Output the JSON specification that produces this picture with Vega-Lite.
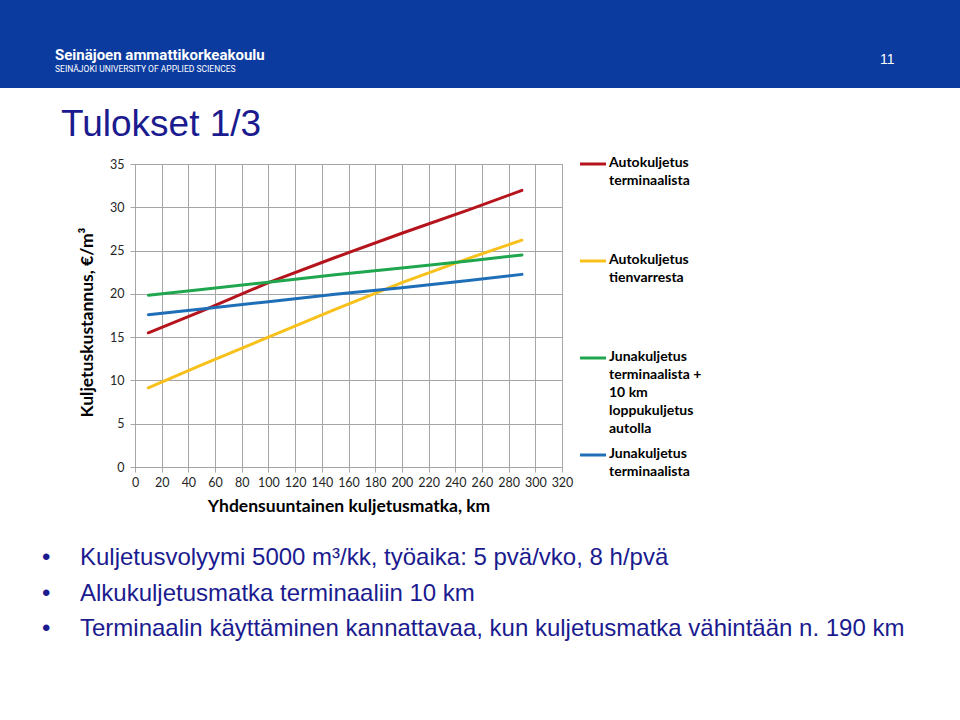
{
  "$schema": "https://vega.github.io/schema/vega-lite/v6.json",
  "padding": 0,
  "background": "#ffffff",
  "spacing": 17,
  "config": {
    "view": {"stroke": "#a6a6a6"},
    "axis": {
      "labelFont": "Lato", "labelFontSize": 12.5, "labelColor": "#262626",
      "titleFont": "Lato", "titleFontSize": 17.5, "titleFontWeight": "bold", "titleColor": "#000000",
      "gridColor": "#a6a6a6", "gridOpacity": 1, "domainColor": "#a6a6a6", "tickColor": "#a6a6a6", "tickSize": 5
    }
  },
  "datasets": {
    "series": [
      {"series": "Autokuljetus terminaalista", "label": "Autokuljetus\nterminaalista"},
      {"series": "Autokuljetus tienvarresta", "label": "Autokuljetus\ntienvarresta"},
      {"series": "Junakuljetus terminaalista + 10 km loppukuljetus autolla", "label": "Junakuljetus\nterminaalista +\n10 km\nloppukuljetus\nautolla"},
      {"series": "Junakuljetus terminaalista", "label": "Junakuljetus\nterminaalista"}
    ]
  },
  "vconcat": [
    {
      "spacing": 0,
      "hconcat": [
        {
          "width": 840, "height": 88,
          "view": {"fill": "#0b3b9f", "stroke": null},
          "title": {
            "text": "Seinäjoen ammattikorkeakoulu",
            "subtitle": "SEINÄJOKI UNIVERSITY OF APPLIED SCIENCES",
            "anchor": "start", "frame": "group", "orient": "top", "offset": -73, "dx": 55,
            "font": "Roboto", "fontSize": 15, "fontWeight": "bold", "color": "#ffffff",
            "subtitleFont": "Roboto", "subtitleFontSize": 8.5, "subtitleColor": "#ffffff", "subtitlePadding": 2
          },
          "data": {"values": []},
          "mark": "point"
        },
        {
          "width": 120, "height": 88,
          "view": {"fill": "#0b3b9f", "stroke": null},
          "title": {
            "text": "11", "anchor": "start", "frame": "group", "orient": "top", "offset": -67, "dx": 40,
            "font": "Liberation Sans", "fontSize": 14, "fontWeight": "normal", "color": "#ffffff"
          },
          "data": {"values": []},
          "mark": "point"
        }
      ]
    },
    {
      "spacing": 0,
      "hconcat": [
        {
          "width": 60, "height": 1,
          "view": {"stroke": null},
          "data": {"values": []},
          "mark": "point"
        },
        {
          "width": 427, "height": 303,
          "title": {
            "text": "Tulokset 1/3", "anchor": "start", "frame": "group", "dx": -74, "offset": 14,
            "font": "Liberation Sans", "fontSize": 37, "fontWeight": "normal", "color": "#1b1b8f"
          },
          "data": {"values": [
            {"series": "Autokuljetus terminaalista", "km": 10, "cost": 15.5},
            {"series": "Autokuljetus terminaalista", "km": 50, "cost": 18.0},
            {"series": "Autokuljetus terminaalista", "km": 100, "cost": 21.3},
            {"series": "Autokuljetus terminaalista", "km": 150, "cost": 24.2},
            {"series": "Autokuljetus terminaalista", "km": 200, "cost": 27.0},
            {"series": "Autokuljetus terminaalista", "km": 250, "cost": 29.7},
            {"series": "Autokuljetus terminaalista", "km": 290, "cost": 31.95},
            {"series": "Autokuljetus tienvarresta", "km": 10, "cost": 9.15},
            {"series": "Autokuljetus tienvarresta", "km": 50, "cost": 11.8},
            {"series": "Autokuljetus tienvarresta", "km": 100, "cost": 15.0},
            {"series": "Autokuljetus tienvarresta", "km": 150, "cost": 18.2},
            {"series": "Autokuljetus tienvarresta", "km": 200, "cost": 21.3},
            {"series": "Autokuljetus tienvarresta", "km": 250, "cost": 24.1},
            {"series": "Autokuljetus tienvarresta", "km": 290, "cost": 26.2},
            {"series": "Junakuljetus terminaalista + 10 km loppukuljetus autolla", "km": 10, "cost": 19.85},
            {"series": "Junakuljetus terminaalista + 10 km loppukuljetus autolla", "km": 50, "cost": 20.5},
            {"series": "Junakuljetus terminaalista + 10 km loppukuljetus autolla", "km": 100, "cost": 21.35},
            {"series": "Junakuljetus terminaalista + 10 km loppukuljetus autolla", "km": 150, "cost": 22.2},
            {"series": "Junakuljetus terminaalista + 10 km loppukuljetus autolla", "km": 200, "cost": 23.0},
            {"series": "Junakuljetus terminaalista + 10 km loppukuljetus autolla", "km": 250, "cost": 23.8},
            {"series": "Junakuljetus terminaalista + 10 km loppukuljetus autolla", "km": 290, "cost": 24.5},
            {"series": "Junakuljetus terminaalista", "km": 10, "cost": 17.6},
            {"series": "Junakuljetus terminaalista", "km": 50, "cost": 18.25},
            {"series": "Junakuljetus terminaalista", "km": 100, "cost": 19.1},
            {"series": "Junakuljetus terminaalista", "km": 150, "cost": 19.95},
            {"series": "Junakuljetus terminaalista", "km": 200, "cost": 20.7},
            {"series": "Junakuljetus terminaalista", "km": 250, "cost": 21.55},
            {"series": "Junakuljetus terminaalista", "km": 290, "cost": 22.25}
          ]},
          "mark": {"type": "line", "strokeWidth": 3, "strokeCap": "round"},
          "encoding": {
            "x": {
              "field": "km", "type": "quantitative",
              "scale": {"domain": [0, 320], "nice": false, "zero": false},
              "axis": {
                "values": [0, 20, 40, 60, 80, 100, 120, 140, 160, 180, 200, 220, 240, 260, 280, 300, 320],
                "title": "Yhdensuuntainen kuljetusmatka, km", "labelPadding": 4, "titlePadding": 9,
                "labelFlush": false, "labelOverlap": false
              }
            },
            "y": {
              "field": "cost", "type": "quantitative",
              "scale": {"domain": [0, 35], "nice": false},
              "axis": {
                "values": [0, 5, 10, 15, 20, 25, 30, 35],
                "title": "Kuljetuskustannus, €/m³", "labelPadding": 6, "titlePadding": 13, "titleY": 158
              }
            },
            "color": {
              "field": "series", "type": "nominal",
              "scale": {
                "domain": ["Autokuljetus terminaalista", "Autokuljetus tienvarresta", "Junakuljetus terminaalista + 10 km loppukuljetus autolla", "Junakuljetus terminaalista"],
                "range": ["#b5141c", "#f8c01a", "#1fa64e", "#1f6fb8"]
              },
              "legend": null
            }
          }
        },
        {
          "width": 140, "height": 303,
          "view": {"stroke": null},
          "data": {"name": "series"},
          "encoding": {
            "y": {
              "field": "series", "type": "nominal",
              "scale": {"type": "point", "domain": ["Autokuljetus terminaalista", "Autokuljetus tienvarresta", "Junakuljetus terminaalista + 10 km loppukuljetus autolla", "Junakuljetus terminaalista"], "range": [0, 291], "padding": 0},
              "axis": null
            },
            "color": {
              "field": "series", "type": "nominal",
              "scale": {
                "domain": ["Autokuljetus terminaalista", "Autokuljetus tienvarresta", "Junakuljetus terminaalista + 10 km loppukuljetus autolla", "Junakuljetus terminaalista"],
                "range": ["#b5141c", "#f8c01a", "#1fa64e", "#1f6fb8"]
              },
              "legend": null
            }
          },
          "layer": [
            {
              "mark": {"type": "point", "shape": "stroke", "size": 676, "strokeWidth": 3, "filled": false, "opacity": 1},
              "encoding": {
                "x": {"datum": "symbol", "type": "nominal", "scale": {"type": "point", "domain": ["symbol", "label"], "range": [14, 30], "padding": 0}, "axis": null}
              }
            },
            {
              "mark": {"type": "text", "align": "left", "baseline": "top", "dy": -8, "lineBreak": "\n", "lineHeight": 18, "font": "Lato", "fontSize": 14, "fontWeight": "bold", "color": "#000000"},
              "encoding": {
                "x": {"datum": "label", "type": "nominal", "scale": {"type": "point", "domain": ["symbol", "label"], "range": [14, 30], "padding": 0}, "axis": null},
                "text": {"field": "label"},
                "color": {"value": "#000000"}
              }
            }
          ]
        }
      ]
    },
    {
      "width": 960, "height": 185,
      "view": {"stroke": null},
      "data": {"values": [
        {"row": 1, "part": "bullet", "text": "•"},
        {"row": 1, "part": "text", "text": "Kuljetusvolyymi 5000 m³/kk, työaika: 5 pvä/vko, 8 h/pvä"},
        {"row": 2, "part": "bullet", "text": "•"},
        {"row": 2, "part": "text", "text": "Alkukuljetusmatka terminaaliin 10 km"},
        {"row": 3, "part": "bullet", "text": "•"},
        {"row": 3, "part": "text", "text": "Terminaalin käyttäminen kannattavaa, kun kuljetusmatka vähintään n. 190 km"}
      ]},
      "mark": {"type": "text", "align": "left", "baseline": "middle", "font": "Liberation Sans", "fontSize": 24, "color": "#1b1b8f"},
      "encoding": {
        "x": {"field": "part", "type": "nominal", "scale": {"type": "point", "domain": ["bullet", "text"], "range": [42, 80], "padding": 0}, "axis": null},
        "y": {"field": "row", "type": "ordinal", "scale": {"type": "point", "range": [25, 96], "padding": 0}, "axis": null},
        "text": {"field": "text"}
      }
    }
  ]
}
